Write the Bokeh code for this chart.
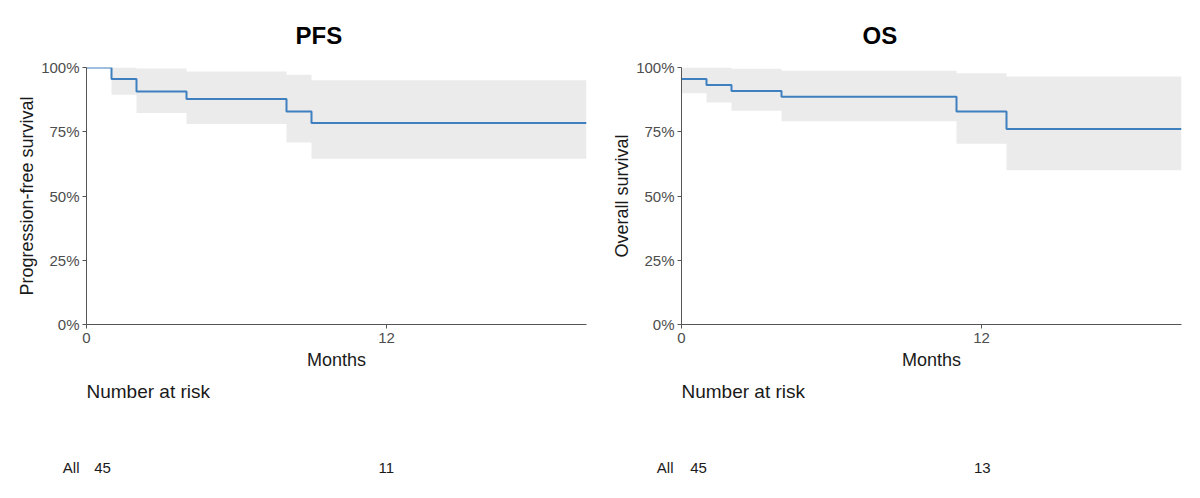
from bokeh.plotting import figure
from bokeh.models import Range1d, FixedTicker, NumeralTickFormatter
from bokeh.layouts import row, column
from bokeh.embed import file_html
from bokeh.resources import INLINE
from bokeh.core.properties import value

# ---------------- data ----------------
pfs_time = [0, 1, 2, 4, 8, 9, 20]
pfs_surv = [1.0, 0.955, 0.907, 0.877, 0.829, 0.784, 0.784]
pfs_lower = [1.0, 0.894, 0.823, 0.780, 0.708, 0.645, 0.645]
pfs_upper = [1.0, 1.0, 0.996, 0.984, 0.972, 0.950, 0.950]

os_time = [0, 1, 2, 4, 11, 13, 20]
os_surv = [0.955, 0.932, 0.909, 0.886, 0.829, 0.761, 0.761]
os_lower = [0.900, 0.864, 0.832, 0.791, 0.703, 0.600, 0.600]
os_upper = [1.0, 1.0, 0.995, 0.987, 0.978, 0.965, 0.965]

risk_times = [0, 12]
pfs_risk = [45, 11]
os_risk = [45, 13]
risk_group = "All"

x_ticks = [0, 12]
y_ticks = [0, 0.25, 0.5, 0.75, 1.0]
x_max = 20

# ---------------- style ----------------
FONT = "Liberation Sans"
BLUE = "#3D7FBF"
BAND = "#EBEBEB"
AXIS = "#555555"
TICKTXT = "#4D4D4D"
TXT = "#1A1A1A"
FRAME_W = 500


def km_panel(title, ylabel, t, s, lo, hi, frame_left, title_left, risk, risk_left, all_right):
    p = figure(width=600, height=380, x_range=Range1d(0, x_max), y_range=Range1d(0, 1),
               output_backend="svg", toolbar_location=None,
               min_border_left=frame_left, min_border_right=600 - frame_left - FRAME_W,
               min_border_top=66, min_border_bottom=56, title=title)
    p.title.align = "left"
    p.title.offset = title_left - frame_left
    p.title.text_font = FONT
    p.title.text_font_size = "24px"
    p.title.text_font_style = "bold"
    p.title.text_color = "#000000"
    p.title.standoff = 38

    p.varea_step(x=t, y1=lo, y2=hi, step_mode="after", fill_color=BAND)
    p.step(t, s, mode="after", line_color=BLUE, line_width=2)

    p.xgrid.visible = False
    p.ygrid.visible = False
    p.outline_line_color = None

    p.xaxis.ticker = FixedTicker(ticks=x_ticks)
    p.yaxis.ticker = FixedTicker(ticks=y_ticks)
    p.yaxis.formatter = NumeralTickFormatter(format="0%")
    p.xaxis.axis_label = "Months"
    p.yaxis.axis_label = ylabel
    for ax in (p.xaxis, p.yaxis):
        ax.axis_line_color = AXIS
        ax.axis_line_width = 1
        ax.major_tick_line_color = AXIS
        ax.major_tick_in = 0
        ax.major_tick_out = 4
        ax.minor_tick_line_color = None
        ax.major_label_text_font = FONT
        ax.major_label_text_font_size = "15px"
        ax.major_label_text_color = TICKTXT
        ax.axis_label_text_font = FONT
        ax.axis_label_text_font_size = "18px"
        ax.axis_label_text_font_style = "normal"
        ax.axis_label_text_color = TXT
    p.xaxis.major_label_standoff = 4
    p.xaxis.axis_label_standoff = 4
    p.yaxis.major_label_standoff = 3
    p.yaxis.axis_label_standoff = 1

    # risk table (its frame is aligned with the KM frame by the column layout)
    scale = 23.65
    row_px, head_px, top_px, bottom_px = 467 - 380, 391 - 380, 0, 118
    unit = row_px - head_px
    r = figure(width=600, height=118,
               x_range=Range1d((frame_left - risk_left) / scale,
                               (frame_left + FRAME_W - risk_left) / scale),
               y_range=Range1d(-(bottom_px - row_px) / unit, 1 + (head_px - top_px) / unit),
               output_backend="svg", toolbar_location=None,
               min_border=0, x_axis_location=None)
    r.xgrid.visible = False
    r.ygrid.visible = False
    r.outline_line_color = None
    r.yaxis.ticker = FixedTicker(ticks=[0])
    r.yaxis.major_label_overrides = {0: risk_group}
    r.yaxis.axis_line_color = None
    r.yaxis.major_tick_line_color = None
    r.yaxis.major_tick_in = 0
    r.yaxis.major_tick_out = 0
    r.yaxis.minor_tick_line_color = None
    r.yaxis.minor_tick_out = 0
    r.yaxis.major_label_standoff = frame_left - all_right
    r.yaxis.major_label_text_font = FONT
    r.yaxis.major_label_text_font_size = "15px"
    r.yaxis.major_label_text_color = TXT

    r.text(x=[0], y=[1], text=["Number at risk"], x_offset=frame_left - risk_left,
           text_align="left", text_baseline="middle", text_font=value(FONT),
           text_font_size="19px", text_color=TXT)
    r.text(x=risk_times, y=[0] * len(risk_times), text=[str(v) for v in risk],
           text_align="center", text_baseline="middle", text_font=value(FONT),
           text_font_size="15px", text_color=TXT)
    return column(p, r, spacing=0)


left = km_panel("PFS", "Progression-free survival", pfs_time, pfs_surv, pfs_lower, pfs_upper,
                frame_left=86, title_left=295, risk=pfs_risk, risk_left=102, all_right=79)
right = km_panel("OS", "Overall survival", os_time, os_surv, os_lower, os_upper,
                 frame_left=81, title_left=262, risk=os_risk, risk_left=98, all_right=73)

layout = row(left, right, spacing=0)
open("out.html", "w").write(file_html(layout, INLINE))
